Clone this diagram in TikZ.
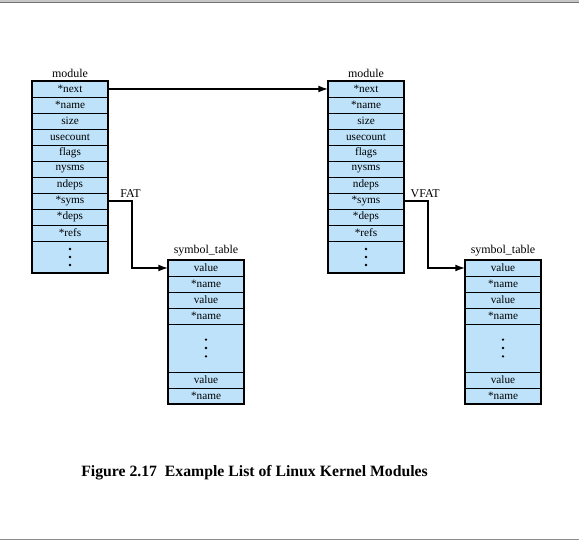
\documentclass[tikz,border=0pt]{standalone}
\usepackage{fontspec}
\setmainfont{Liberation Serif}
\usepackage{tikz}
\usetikzlibrary{arrows.meta,positioning}
\definecolor{cellblue}{RGB}{189,226,250}
\newcommand\celldots[2]{\fill (#1.center) ++(0,#2) circle (0.9pt) ++(0,-#2) circle (0.9pt) ++(0,-#2) circle (0.9pt);}
\tikzset{
cell/.style={draw=black, line width=0.5pt, fill=cellblue, minimum width=1.9cm, minimum height=0.4cm, inner sep=0pt, outer sep=0pt, font=\fontsize{8}{9}\selectfont},
tag/.style={inner sep=2pt, font=\fontsize{8.5}{10}\selectfont},
box/.style={draw=black, line width=0.9pt},
link/.style={draw=black, line width=0.9pt, -{Latex[length=2.4mm,width=1.7mm]}}
}

\begin{document}
\begin{tikzpicture}
\useasboundingbox (0cm,0cm) rectangle (14.475cm,13.575cm);
\fill[black!22] (0cm,13.525cm) rectangle (14.475cm,13.575cm);
\draw[black!55, line width=0.8pt] (0cm,13.5125cm) -- (14.475cm,13.5125cm);
\draw[black!45, line width=0.8pt] (0cm,0.0875cm) -- (14.475cm,0.0875cm);

\node[cell] (m1next) at (1.75cm,11.35cm) {*next};
\node[cell] (m1name) at (1.75cm,10.95cm) {*name};
\node[cell] (m1size) at (1.75cm,10.55cm) {size};
\node[cell] (m1use) at (1.75cm,10.15cm) {usecount};
\node[cell] (m1flags) at (1.75cm,9.75cm) {flags};
\node[cell] (m1nysms) at (1.75cm,9.35cm) {nysms};
\node[cell] (m1ndeps) at (1.75cm,8.95cm) {ndeps};
\node[cell] (m1syms) at (1.75cm,8.55cm) {*syms};
\node[cell] (m1deps) at (1.75cm,8.15cm) {*deps};
\node[cell] (m1refs) at (1.75cm,7.75cm) {*refs};
\node[cell, minimum height=0.8cm] (m1dots) at (1.75cm,7.15cm) {};
\draw[box] (m1next.north west) rectangle (m1dots.south east);
\celldots{m1dots}{0.2cm}
\node[tag, above=0.5pt of m1next] (m1label) {module};

\node[cell] (m2next) at (9.15cm,11.35cm) {*next};
\node[cell] (m2name) at (9.15cm,10.95cm) {*name};
\node[cell] (m2size) at (9.15cm,10.55cm) {size};
\node[cell] (m2use) at (9.15cm,10.15cm) {usecount};
\node[cell] (m2flags) at (9.15cm,9.75cm) {flags};
\node[cell] (m2nysms) at (9.15cm,9.35cm) {nysms};
\node[cell] (m2ndeps) at (9.15cm,8.95cm) {ndeps};
\node[cell] (m2syms) at (9.15cm,8.55cm) {*syms};
\node[cell] (m2deps) at (9.15cm,8.15cm) {*deps};
\node[cell] (m2refs) at (9.15cm,7.75cm) {*refs};
\node[cell, minimum height=0.8cm] (m2dots) at (9.15cm,7.15cm) {};
\draw[box] (m2next.north west) rectangle (m2dots.south east);
\celldots{m2dots}{0.2cm}
\node[tag, above=0.5pt of m2next] (m2label) {module};

\node[cell] (s1val1) at (5.15cm,6.875cm) {value};
\node[cell] (s1name1) at (5.15cm,6.475cm) {*name};
\node[cell] (s1val2) at (5.15cm,6.075cm) {value};
\node[cell] (s1name2) at (5.15cm,5.675cm) {*name};
\node[cell, minimum height=1.2cm] (s1dots) at (5.15cm,4.875cm) {};
\node[cell] (s1val3) at (5.15cm,4.075cm) {value};
\node[cell] (s1name3) at (5.15cm,3.675cm) {*name};
\draw[box] (s1val1.north west) rectangle (s1name3.south east);
\celldots{s1dots}{0.21cm}
\node[tag, above=0.5pt of s1val1] (s1label) {symbol\_table};

\node[cell] (s2val1) at (12.575cm,6.875cm) {value};
\node[cell] (s2name1) at (12.575cm,6.475cm) {*name};
\node[cell] (s2val2) at (12.575cm,6.075cm) {value};
\node[cell] (s2name2) at (12.575cm,5.675cm) {*name};
\node[cell, minimum height=1.2cm] (s2dots) at (12.575cm,4.875cm) {};
\node[cell] (s2val3) at (12.575cm,4.075cm) {value};
\node[cell] (s2name3) at (12.575cm,3.675cm) {*name};
\draw[box] (s2val1.north west) rectangle (s2name3.south east);
\celldots{s2dots}{0.21cm}
\node[tag, above=0.5pt of s2val1] (s2label) {symbol\_table};

\draw[link] (m1next.east) -- (m2next.west);
\draw[link] (m1syms.east) -- ++(0.6cm,0cm) coordinate (m1bend) |- (s1val1.west);
\draw[link] (m2syms.east) -- ++(0.6cm,0cm) coordinate (m2bend) |- (s2val1.west);
\node[tag, above, xshift=-1pt] (fat) at (m1bend) {FAT};
\node[tag, above, xshift=-2pt] (vfat) at (m2bend) {VFAT};

\node[anchor=west, inner sep=0pt, font=\fontsize{11.2}{13}\selectfont\bfseries] (caption) at (2.025cm,1.75cm) {Figure 2.17~ Example List of Linux Kernel Modules};
\end{tikzpicture}
\end{document}
